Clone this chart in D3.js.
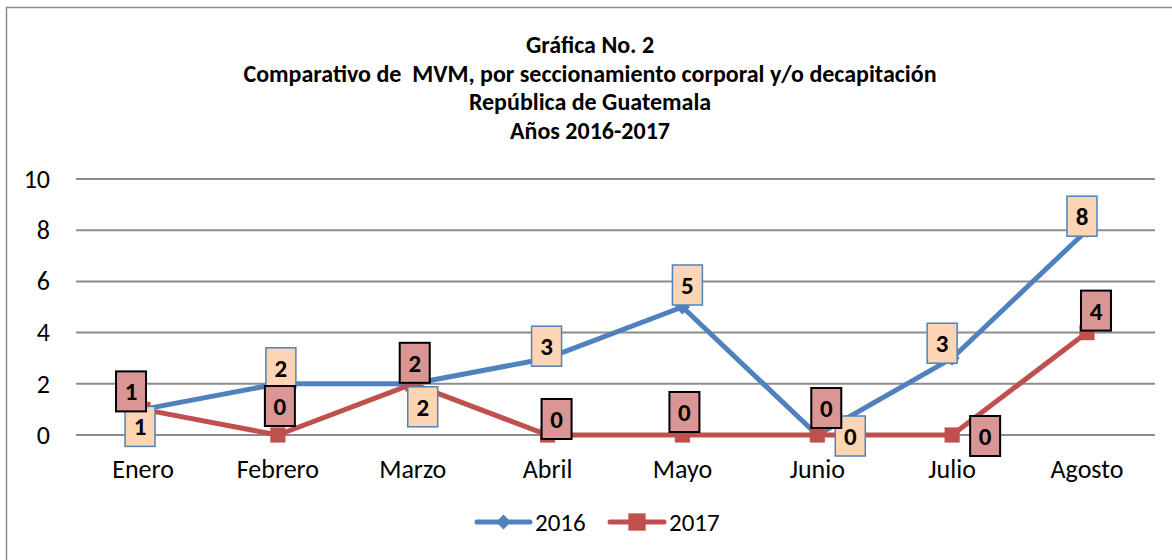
<!DOCTYPE html>
<html>
<head>
<meta charset="utf-8">
<script src="https://cdn.jsdelivr.net/npm/d3@7"></script>
<style>
  body { margin: 0; background: #fff; }
  text { font-family: Carlito, Lato, "Liberation Sans", sans-serif; }
</style>
</head>
<body>
<svg id="chart"></svg>
<script>
const months = ["Enero", "Febrero", "Marzo", "Abril", "Mayo", "Junio", "Julio", "Agosto"];
const values2016 = [1, 2, 2, 3, 5, 0, 3, 8];
const values2017 = [1, 0, 2, 0, 0, 0, 0, 4];
const yTicks = [0, 2, 4, 6, 8, 10];
const titleLines = [
  "Gráfica No. 2",
  "Comparativo de  MVM, por seccionamiento corporal y/o decapitación",
  "República de Guatemala",
  "Años 2016-2017"
];

// where each data label box sits relative to its point (copied by eye)
const labelShift2016 = [[-3, 17], [3, -16], [10, 23], [-1, -12], [5, -22], [33, 1], [-10, -15], [-5, -14]];
const labelShift2017 = [[-12, -18], [2, -29], [2, -21], [9, -16], [2, -23], [9, -27], [33, 1], [9, -22]];

const width = 1172, height = 560;
const svg = d3.select("#chart").attr("width", width).attr("height", height);

// outer frame (runs off the right and bottom)
svg.append("rect")
  .attr("x", 6.5).attr("y", 7.5)
  .attr("width", 1200).attr("height", 600)
  .attr("fill", "none").attr("stroke", "#8c8c8c").attr("stroke-width", 1.5);

const title = svg.append("g");
titleLines.forEach((t, i) => {
  title.append("text")
    .attr("x", 590).attr("y", 53 + i * 28.5)
    .attr("text-anchor", "middle")
    .style("font-size", "24px").style("font-weight", "bold")
    .style("white-space", "pre")
    .text(t);
});

const x = d3.scaleBand().domain(months).range([75.6, 1154.4]);
const y = d3.scaleLinear().domain([0, 10]).range([435, 179]);
const cx = (d) => x(d) + x.bandwidth() / 2;

// gridlines
svg.append("g")
  .selectAll("line")
  .data(yTicks)
  .enter()
  .append("line")
  .attr("x1", 76).attr("x2", 1155)
  .attr("y1", (d) => y(d)).attr("y2", (d) => y(d))
  .attr("stroke", "#8c8c8c").attr("stroke-width", 2);

const yAxis = svg.append("g")
  .attr("transform", "translate(50,0)")
  .call(d3.axisLeft(y).tickValues(yTicks).tickSize(0).tickPadding(0));
yAxis.select(".domain").remove();
yAxis.selectAll("text")
  .style("font-family", "Carlito, Lato, sans-serif")
  .style("font-size", "26px").attr("fill", "#000");

const xAxis = svg.append("g")
  .attr("transform", "translate(0,456)")
  .call(d3.axisBottom(x).tickSize(0).tickPadding(4));
xAxis.select(".domain").remove();
xAxis.selectAll("text")
  .style("font-family", "Carlito, Lato, sans-serif")
  .style("font-size", "26px").attr("fill", "#000");

const series = [
  { name: "2016", values: values2016, color: "#4f81bd", shift: labelShift2016, fill: "#fcd5b5", border: "#4f81bd", marker: "diamond" },
  { name: "2017", values: values2017, color: "#c0504d", shift: labelShift2017, fill: "#d99694", border: "#000", marker: "square" }
];

// diamond = square turned 45deg
function markerPath(kind, size) {
  return d3.symbol().type(d3.symbolSquare).size(size)();
}
function markerTransform(kind, px, py) {
  return `translate(${px},${py})` + (kind === "diamond" ? " rotate(45)" : "");
}

const line = d3.line()
  .x((d, i) => cx(months[i]))
  .y((d) => y(d));

series.forEach((s) => {
  svg.append("path")
    .datum(s.values)
    .attr("d", line)
    .attr("fill", "none")
    .attr("stroke", s.color)
    .attr("stroke-width", 5)
    .attr("stroke-linejoin", "round");

  svg.append("g")
    .selectAll("path")
    .data(s.values)
    .enter()
    .append("path")
    .attr("d", markerPath(s.marker, s.marker === "diamond" ? 115 : 230))
    .attr("transform", (d, i) => markerTransform(s.marker, cx(months[i]), y(d)))
    .attr("fill", s.color);
});

// data labels on top of everything
series.forEach((s) => {
  const g = svg.append("g")
    .selectAll("g")
    .data(s.values)
    .enter()
    .append("g")
    .attr("transform", (d, i) => `translate(${cx(months[i]) + s.shift[i][0]},${y(d) + s.shift[i][1]})`);
  g.append("rect")
    .attr("x", -15).attr("y", -20)
    .attr("width", 30).attr("height", 40)
    .attr("fill", s.fill)
    .attr("stroke", s.border)
    .attr("stroke-width", s.name === "2016" ? 1.5 : 2);
  g.append("text")
    .attr("text-anchor", "middle")
    .attr("y", 9)
    .style("font-size", "25px").style("font-weight", "bold")
    .text((d) => d);
});

// legend
const legend = svg.append("g");
const legendItems = [
  { s: series[0], x1: 477, x2: 530, tx: 535 },
  { s: series[1], x1: 610, x2: 664, tx: 669 }
];
legendItems.forEach((l) => {
  legend.append("line")
    .attr("x1", l.x1).attr("x2", l.x2)
    .attr("y1", 522).attr("y2", 522)
    .attr("stroke", l.s.color).attr("stroke-width", 5)
    .attr("stroke-linecap", "round");
  legend.append("path")
    .attr("d", markerPath(l.s.marker, l.s.marker === "diamond" ? 110 : 300))
    .attr("transform", markerTransform(l.s.marker, (l.x1 + l.x2) / 2, 522))
    .attr("fill", l.s.color);
  legend.append("text")
    .attr("x", l.tx).attr("y", 531)
    .style("font-size", "25px")
    .text(l.s.name);
});
</script>
</body>
</html>
